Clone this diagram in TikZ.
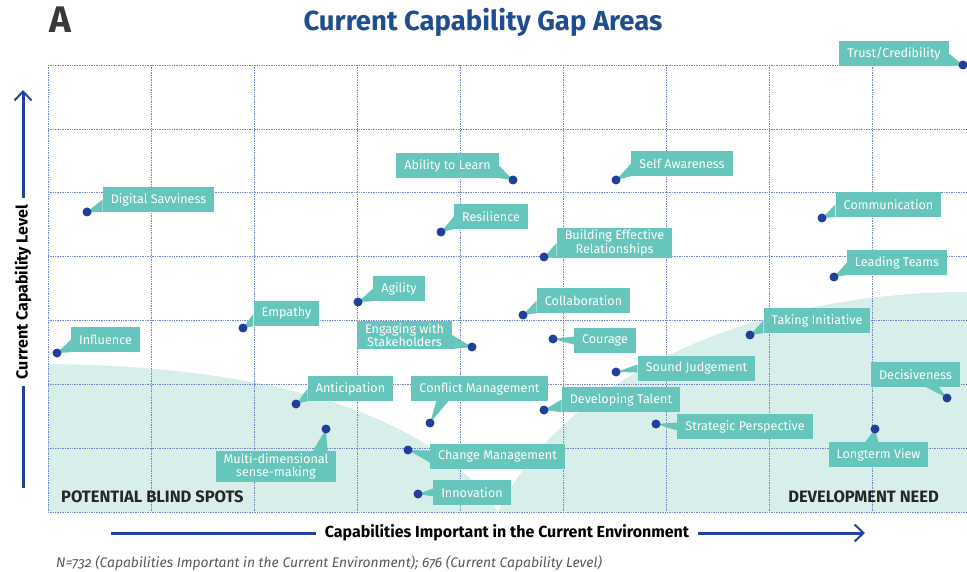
\documentclass[tikz,border=0pt]{standalone}
\usepackage{fontspec}
\setmainfont{Fira Sans}
\usetikzlibrary{calc,arrows.meta}
\definecolor{capteal}{HTML}{67C6BB}
\definecolor{capshade}{HTML}{D7EEEA}
\definecolor{capdot}{HTML}{1F3F99}
\definecolor{capgrid}{HTML}{6F86C8}
\definecolor{captitle}{HTML}{1F4E8E}
\definecolor{capaxis}{HTML}{22439A}

\begin{document}
\begin{tikzpicture}[x=1pt,y=-1pt,
  gridline/.style={capgrid, densely dotted, line width=0.7pt},
  capbox/.style={fill=capteal, text=white, font=\fontsize{12.6}{13.5}\selectfont, inner xsep=8pt, inner ysep=0pt, minimum height=25pt},
  twobox/.style={capbox, align=center, inner ysep=2pt},
  cornertext/.style={font=\bfseries\fontsize{16.5}{18}\selectfont, text=black!85},
  axisline/.style={capaxis, line width=3pt},
  axisarrow/.style={axisline, -{Straight Barb[length=9pt,width=17pt,line width=2pt]}}
]
\useasboundingbox (0,0) rectangle (967,572);

%% shaded areas
\fill[capshade] (48,364) .. controls (260,366) and (430,410) .. (498,512) -- (48,512) -- cycle; %%left
\fill[capshade] (498,512) .. controls (560,380) and (750,292) .. (967,292) -- (967,512) -- cycle; %%right

%% grid
\foreach \i in {0,...,8}
  \draw[gridline] (48+103.1*\i,65) -- (48+103.1*\i,512);
\foreach \j in {0,...,7}
  \draw[gridline] (48,65+63.86*\j) -- (967,65+63.86*\j);

%% titles
\node[anchor=base west, font=\bfseries\fontsize{37}{40}\selectfont, text=black!78, inner sep=0pt] (panel) at (49,33) {A};
\node[anchor=base, font=\bfseries\fontsize{27.5}{30}\selectfont, text=captitle, inner sep=0pt] (title) at (483,31) {Current Capability Gap Areas};

%% axes
\node[rotate=90, font=\bfseries\fontsize{16}{18}\selectfont, inner sep=0pt, minimum width=188pt] (ylab) at (23,292) {Current Capability Level};
\coordinate (ytop) at (23,90);
\coordinate (ybot) at (23,488);
\draw[axisarrow] (ylab.east) -- (ytop);
\draw[axisline] (ylab.west) -- (ybot);
\node[font=\bfseries\fontsize{16}{18}\selectfont, inner sep=0pt, minimum width=382pt] (xlab) at (507,533) {Capabilities Important in the Current Environment};
\coordinate (xleft) at (111,533);
\coordinate (xright) at (865,533);
\draw[axisline] (xleft) -- (xlab.west);
\draw[axisarrow] (xlab.east) -- (xright);

\node[cornertext, anchor=west, inner sep=0pt] (blind) at (61,497) {POTENTIAL BLIND SPOTS};
\node[cornertext, anchor=east, inner sep=0pt] (devneed) at (939,497) {DEVELOPMENT NEED};
\node[anchor=west, inner sep=0pt, text=black!65, font=\itshape\fontsize{13.9}{15}\selectfont\addfontfeatures{Numbers=OldStyle}] (note) at (56,563) {N=732 (Capabilities Important in the Current Environment); 676 (Current Capability Level)};

%% capability points
\coordinate (trust) at (963,65);
\coordinate (learn) at (513,180);
\coordinate (self) at (616,180);
\coordinate (digital) at (87,212);
\coordinate (comm) at (822,218);
\coordinate (resil) at (441,232);
\coordinate (build) at (544,257);
\coordinate (lead) at (834,277);
\coordinate (agil) at (358,302);
\coordinate (empa) at (243,328);
\coordinate (collab) at (523,315);
\coordinate (infl) at (57,353);
\coordinate (init) at (750,335);
\coordinate (engage) at (472,347);
\coordinate (cour) at (553,339);
\coordinate (sound) at (616,372);
\coordinate (decis) at (947,398);
\coordinate (antic) at (296,404);
\coordinate (confl) at (430,423);
\coordinate (talent) at (544,410);
\coordinate (strat) at (656,424);
\coordinate (multi) at (326,429);
\coordinate (longt) at (875,429);
\coordinate (change) at (408,450);
\coordinate (innov) at (418,494);

%% labels
\node[capbox] (trustL) at (894,53.5) {Trust/Credibility};
\node[capbox] (learnL) at (447.5,165.5) {Ability to Learn};
\node[capbox] (selfL) at (682,163.5) {Self Awareness};
\node[capbox] (digitalL) at (158.5,199.5) {Digital Savviness};
\node[capbox] (commL) at (888.5,204.5) {Communication};
\node[capbox] (resilL) at (491,216.5) {Resilience};
\node[twobox] (buildL) at (614.5,243) {Building Effective\\Relationships};
\node[capbox] (leadL) at (897,262.5) {Leading Teams};
\node[capbox] (agilL) at (399,288.5) {Agility};
\node[capbox] (empaL) at (286.5,313.5) {Empathy};
\node[capbox] (collabL) at (583.5,300.5) {Collaboration};
\node[capbox] (inflL) at (105.5,339.5) {Influence};
\node[capbox] (initL) at (817,320.5) {Taking Initiative};
\node[twobox] (engageL) at (404.5,335) {Engaging with\\Stakeholders};
\node[capbox] (courL) at (605,340.5) {Courage};
\node[capbox] (soundL) at (696.5,368.5) {Sound Judgement};
\node[capbox] (decisL) at (915.5,374.5) {Decisiveness};
\node[capbox] (anticL) at (350.5,388.5) {Anticipation};
\node[capbox] (conflL) at (479.5,388.5) {Conflict Management};
\node[capbox] (talentL) at (621,399.5) {Developing Talent};
\node[capbox] (stratL) at (745,426.5) {Strategic Perspective};
\node[twobox] (multiL) at (276,466.5) {Multi-dimensional\\sense-making};
\node[capbox] (longtL) at (878.5,454.5) {Longterm View};
\node[capbox] (changeL) at (497.5,456.5) {Change Management};
\node[capbox] (innovL) at (472,492.5) {Innovation};

%% pointers
\fill[capteal] (trustL.east) -- (trustL.south east) -- (trust);
\fill[capteal] (learnL.east) -- (learnL.south east) -- (learn);
\fill[capteal] (engageL.east) -- (engageL.south east) -- (engage);
\fill[capteal] (selfL.west) -- (selfL.south west) -- (self);
\fill[capteal] (digitalL.west) -- (digitalL.south west) -- (digital);
\fill[capteal] (commL.west) -- (commL.south west) -- (comm);
\fill[capteal] (resilL.west) -- (resilL.south west) -- (resil);
\fill[capteal] (buildL.west) -- (buildL.south west) -- (build);
\fill[capteal] (leadL.west) -- (leadL.south west) -- (lead);
\fill[capteal] (agilL.west) -- (agilL.south west) -- (agil);
\fill[capteal] (empaL.west) -- (empaL.south west) -- (empa);
\fill[capteal] (collabL.west) -- (collabL.south west) -- (collab);
\fill[capteal] (inflL.west) -- (inflL.south west) -- (infl);
\fill[capteal] (initL.west) -- (initL.south west) -- (init);
\fill[capteal] (anticL.west) -- (anticL.south west) -- (antic);
\fill[capteal] (talentL.west) -- (talentL.south west) -- (talent);
\fill[capteal] ($(courL.west)+(0,-4)$) -- ($(courL.west)+(0,4)$) -- (cour);
\fill[capteal] ($(soundL.west)+(0,-4)$) -- ($(soundL.west)+(0,4)$) -- (sound);
\fill[capteal] ($(stratL.west)+(0,-4)$) -- ($(stratL.west)+(0,4)$) -- (strat);
\fill[capteal] ($(innovL.west)+(0,-4)$) -- ($(innovL.west)+(0,4)$) -- (innov);
\fill[capteal] ($(changeL.west)+(0,-6)$) -- ($(changeL.west)+(0,6)$) -- (change);
\fill[capteal] ($(decisL.south east)+(-34,0)$) -- ($(decisL.south east)+(-21,0)$) -- (decis);
\fill[capteal] ($(conflL.south west)+(25,0)$) -- ($(conflL.south west)+(37,0)$) -- (confl);
\fill[capteal] ($(multiL.north east)+(-24,0)$) -- ($(multiL.north east)+(-9,0)$) -- (multi);
\fill[capteal] ($(longtL.north west)+(37,0)$) -- ($(longtL.north west)+(50,0)$) -- (longt);

%% dots
\foreach \p in {trust,learn,self,digital,comm,resil,build,lead,agil,empa,collab,infl,init,engage,cour,sound,decis,antic,confl,talent,strat,multi,longt,change,innov}
  \fill[capdot] (\p) circle (4.5);
\end{tikzpicture}
\end{document}
